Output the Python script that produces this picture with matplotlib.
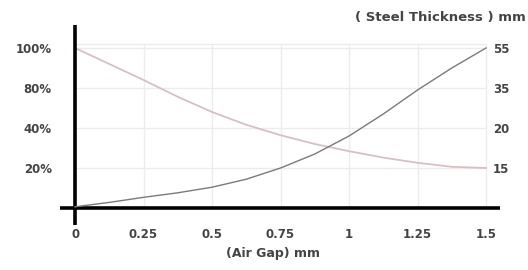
import matplotlib
matplotlib.use('Agg')
import matplotlib.pyplot as plt
import numpy as np

# data
air_gap = [0, 0.125, 0.25, 0.375, 0.5, 0.625, 0.75, 0.875, 1.0, 1.125, 1.25, 1.375, 1.5]
percent = [100, 92, 84, 71.2, 56, 43.2, 36.4, 32, 28.4, 25.2, 22.6, 20.6, 20]
thickness = [0.45, 2.1, 4, 5.7, 7.8, 10.8, 15, 16.75, 19, 25.25, 34.25, 45, 55]

pct_ticks = [20, 40, 80, 100]
pct_labels = ['20%', '40%', '80%', '100%']
mm_ticks = [15, 20, 35, 55]
x_ticks = [0, 0.25, 0.5, 0.75, 1, 1.25, 1.5]
x_labels = ['0', '0.25', '0.5', '0.75', '1', '1.25', '1.5']

# uneven value scales: each tick sits one step above the previous
levels = [-1, 0, 1, 2, 3, 4, 5]
pct_steps = [-20, 0, 20, 40, 80, 100, 120]
mm_steps = [-15, 0, 15, 20, 35, 55, 75]


def pct_fwd(v):
    return np.interp(v, pct_steps, levels)


def pct_inv(v):
    return np.interp(v, levels, pct_steps)


def mm_fwd(v):
    return np.interp(v, mm_steps, levels)


def mm_inv(v):
    return np.interp(v, levels, mm_steps)


W, H = 528, 270
fig = plt.figure(figsize=(W / 100, H / 100), dpi=100)
ax = fig.add_axes([60 / W, 1 - 225 / H, 440 / W, 200 / H])
ax2 = ax.twinx()

ax.set_yscale('function', functions=(pct_fwd, pct_inv))
ax2.set_yscale('function', functions=(mm_fwd, mm_inv))
ax.set_xlim(-0.055, 1.551)
ax.set_ylim(pct_inv(-0.425), pct_inv(4.575))
ax2.set_ylim(mm_inv(-0.425), mm_inv(4.575))

for a in (ax, ax2):
    for s in a.spines.values():
        s.set_visible(False)

# grid
grid_c = '#ececec'
ax.vlines(x_ticks[1:], 0, pct_inv(4.1), color=grid_c, lw=1, zorder=0)
ax.hlines(pct_ticks + [pct_inv(4.1)], 0, 1.5, color=grid_c, lw=1, zorder=0)

ax.plot(air_gap, percent, color='#d9bfc4', lw=1.3, zorder=2)
ax2.plot(air_gap, thickness, color='#7a7a7a', lw=1, zorder=2)

ax.axvline(0, color='black', lw=2.6, zorder=3)
ax.axhline(0, color='black', lw=2.6, zorder=3)

tc = '#444444'
fs = 8.5
ax.set_yticks(pct_ticks)
ax.set_yticklabels(pct_labels)
ax.tick_params(axis='y', length=0, pad=6, labelsize=fs, labelcolor=tc)
ax2.set_yticks(mm_ticks)
ax2.set_yticklabels([str(t) for t in mm_ticks])
ax2.tick_params(axis='y', length=0, pad=-5, labelsize=fs, labelcolor=tc)
ax.set_xticks(x_ticks)
ax.set_xticklabels(x_labels)
ax.tick_params(axis='x', length=0, pad=2, labelsize=fs, labelcolor=tc)
for lbl in ax.get_yticklabels() + ax2.get_yticklabels() + ax.get_xticklabels():
    lbl.set_fontweight('bold')

fig.text(273 / W, 1 - 253 / H, '(Air Gap) mm', ha='center', va='center',
         fontsize=9, color=tc, fontweight='bold')
fig.text(526 / W, 1 - 17 / H, '( Steel Thickness ) mm', ha='right', va='center',
         fontsize=9.5, color=tc, fontweight='bold')

fig.savefig('out.png', dpi=100)
